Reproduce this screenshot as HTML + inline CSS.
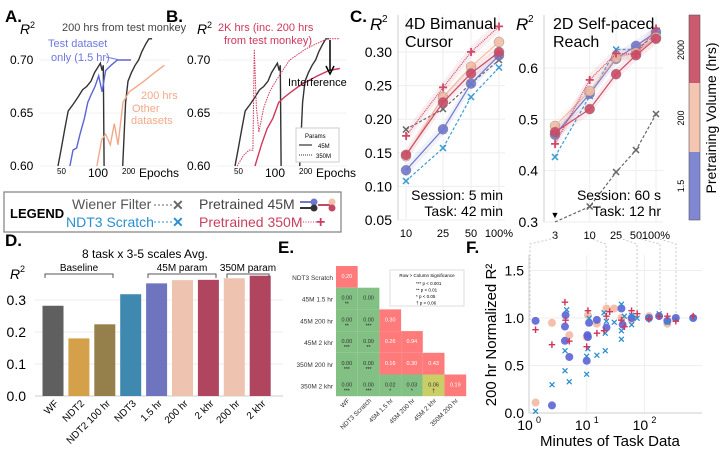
<!DOCTYPE html>
<html><head><meta charset="utf-8"><style>
body{margin:0;background:#fff}
svg{font-family:"Liberation Sans",sans-serif;display:block}
</style></head><body>
<svg id="fig" width="720" height="450" viewBox="0 0 720 450" xmlns="http://www.w3.org/2000/svg">
<g font-weight="bold" font-size="17">
<text x="5" y="22">A.</text><text x="166" y="22">B.</text><text x="350" y="22">C.</text>
<text x="5" y="246">D.</text><text x="278" y="253">E.</text><text x="466" y="253">F.</text>
</g>
<g>
<rect x="4" y="192" width="337" height="40" fill="none" stroke="#888" stroke-width="1.3"/>
<text x="10" y="218" font-size="13" font-weight="bold">LEGEND</text>
<text x="72" y="209" font-size="14" fill="#555">Wiener Filter</text>
<line x1="154" y1="205" x2="172" y2="205" stroke="#666" stroke-dasharray="2,2"/><text x="172" y="210" font-size="14" fill="#666" font-weight="bold">✕</text>
<text x="66" y="227" font-size="14" fill="#2a8fd0">NDT3 Scratch</text>
<line x1="154" y1="222" x2="172" y2="222" stroke="#2a8fd0" stroke-dasharray="2,2"/><text x="172" y="227" font-size="14" fill="#2a8fd0" font-weight="bold">✕</text>
<text x="199" y="209" font-size="14" fill="#444">Pretrained 45M</text>
<line x1="300" y1="202" x2="314" y2="202" stroke="#6f77cc" stroke-width="2"/><circle cx="314" cy="202" r="3.5" fill="#6f77cc"/>
<line x1="300" y1="208" x2="314" y2="208" stroke="#333" stroke-width="2"/><circle cx="314" cy="208" r="3.5" fill="#333"/>
<line x1="318" y1="205" x2="332" y2="205" stroke="#c24a64" stroke-width="2"/><circle cx="332" cy="202" r="3.5" fill="#f2c1aa"/><circle cx="332" cy="208" r="3.5" fill="#c24a64"/>
<text x="199" y="227" font-size="14" fill="#c8405e">Pretrained 350M</text>
<line x1="303" y1="222" x2="318" y2="222" stroke="#c8405e" stroke-dasharray="1,1.5"/><text x="316" y="227" font-size="16" fill="#c8405e" font-weight="bold">+</text>
</g>
<g id="root"></g>
</svg>
<script>
// ---------- data: panels A / B (epoch, R2) ----------
const aBlack1=[[46,0.60],[49,0.615],[53,0.635],[57,0.652],[63,0.658],[70,0.665],[77,0.672],[84,0.675],[92,0.68],[99,0.688],[106,0.693],[112,0.697],[116,0.69],[119,0.695],[121,0.60]];
const aBlack2=[[179,0.60],[190,0.66],[200,0.68],[215,0.688],[232,0.695],[250,0.70],[268,0.708],[290,0.715],[310,0.72],[332,0.72]];
const aBlue=[[59,0.60],[63,0.615],[68,0.617],[73,0.63],[80,0.645],[86,0.66],[93,0.668],[100,0.675],[108,0.685],[116,0.67],[125,0.69],[140,0.695],[160,0.70],[185,0.70],[213,0.70]];
const aOrange=[[104,0.60],[115,0.625],[125,0.63],[138,0.62],[150,0.64],[162,0.62],[180,0.66],[205,0.67],[240,0.675],[280,0.68],[320,0.685],[370,0.69],[430,0.695]];
const bRed=[[70,0.60],[80,0.62],[90,0.635],[102,0.645],[115,0.66],[130,0.665],[150,0.67],[175,0.675],[210,0.68],[260,0.685],[330,0.69],[415,0.692]];
const bRedDot=[[48,0.60],[55,0.61],[62,0.615],[67,0.615],[69,0.71],[72,0.655],[76,0.632],[84,0.655],[95,0.67],[108,0.68],[125,0.69],[145,0.70],[170,0.705],[200,0.71],[250,0.715],[320,0.72],[415,0.72]];
// ---------- panel C ----------
const cLeftX=[10,25,50,100];
const cLeftWF=[0.185,0.215,0.253,0.288];
const cLeftNDT3=[0.108,0.157,0.233,0.277];
const cLeft45s=[0.124,0.185,0.253,0.295];
const cLeft45m=[0.145,0.233,0.278,0.315];
const cLeft45l=[0.147,0.225,0.268,0.300];
const cLeft350=[0.175,0.247,0.300,0.338];
const cRightX=[3,10,25,50,100];
const cRightWF=[0.30,0.33,0.397,0.44,0.51];
const cRightNDT3=[0.427,0.545,0.636,0.636,0.665];
const cRight45s=[0.470,0.550,0.618,0.643,0.670];
const cRight45m=[0.487,0.555,0.620,0.630,0.660];
const cRight45l=[0.475,0.520,0.588,0.625,0.657];
const cRight350=[0.452,0.577,0.628,0.627,0.677];
// ---------- panel D ----------
const dCats=["WF","NDT2","NDT2 100 hr","NDT3","1.5 hr","200 hr","2 khr","200 hr","2 khr"];
const dVals=[0.282,0.180,0.224,0.318,0.352,0.362,0.363,0.368,0.376];
const dColors=["#5f5f5f","#d4a04a","#957f4a","#3f88b0","#6e75be","#eec3b0","#b04560","#eec3b0","#b04560"];
const dTicks=[0.0,0.1,0.2,0.3];
// ---------- panel E ----------
const eRows=["NDT3 Scratch","45M 1.5 hr","45M 200 hr","45M 2 khr","350M 200 hr","350M 2 khr"];
const eCols=["WF","NDT3 Scratch","45M 1.5 hr","45M 200 hr","45M 2 khr","350M 200 hr"];
const eVals=[[0.20],[0.00,0.00],[0.00,0.00,0.30],[0.00,0.00,0.26,0.94],[0.00,0.00,0.16,0.30,0.43],[0.00,0.00,0.02,0.03,0.06,0.19]];
const eStars=[[""],["**",""],["**","***",""],["***","**","",""],["***","***","","",""],["***","***","*","*","†",""]];
// ---------- panel F ----------
const fBlue=[[1.3,0.97],[2.5,0.08],[4.2,0.91],[4.2,0.76],[4.3,1.03],[5,0.59],[10,0.55],[10.3,0.82],[10.5,0.80],[11,0.95],[15,0.98],[22,0.90],[40,1.1],[42,0.93],[60,1.0],[120,1.0],[180,1.02],[250,0.97],[350,1.0],[700,1.0]];
const fPeach=[[1.3,0.11],[2.5,0.95],[5,0.82],[10,0.80],[10.5,1.03],[15,0.94],[22,1.1],[30,1.1],[40,1.0],[60,0.98],[120,1.02],[250,0.94]];
const fRed=[[1.3,0.88],[2.5,0.72],[4.2,1.17],[4.3,0.98],[5,0.76],[10,0.70],[10.5,1.08],[15,0.84],[20,0.87],[22,1.02],[25,1.07],[40,0.98],[45,0.91],[60,1.08],[75,1.05],[120,0.99],[180,1.02],[250,1.02],[350,0.97],[700,1.02]];
const fX=[[1.3,0.02],[2.5,0.30],[4.2,0.66],[4.2,0.45],[4.5,1.09],[5,0.33],[10,0.41],[10,0.60],[10.5,0.68],[11,1.0],[15,0.61],[20,1.06],[21,0.66],[21,0.84],[22,0.97],[30,0.96],[40,1.15],[40,0.87],[40,0.78],[45,1.02],[60,0.93],[60,1.03],[75,1.0],[120,1.0],[180,1.05],[250,0.96],[350,0.99],[700,1.0]];

const NS="http://www.w3.org/2000/svg";
const root=document.getElementById('root');
function mk(tag,attrs,parent,txt){const e=document.createElementNS(NS,tag);for(const k in attrs)e.setAttribute(k,attrs[k]);if(txt!==undefined)e.textContent=txt;(parent||root).appendChild(e);return e;}
function text(x,y,s,size,extra,parent){const a=Object.assign({x:x,y:y,'font-size':size},extra||{});return mk('text',a,parent,s);}
function poly(pts,stroke,w,dash,parent){const a={points:pts.map(p=>p[0].toFixed(1)+','+p[1].toFixed(1)).join(' '),fill:'none',stroke:stroke,'stroke-width':w};if(dash)a['stroke-dasharray']=dash;return mk('polyline',a,parent);}

// ---------- panels A & B ----------
function abPanel(ox,name){
  const g=mk('g',{});
  
  
  const ex=e=>ox+62+Math.log2(e/50)*33;
  const ry=v=>166-(v-0.60)/0.10*106;
  mk('line',{x1:ox+40,y1:166,x2:ox+170,y2:166,stroke:'#ddd'},g);
  [0.60,0.65,0.70].forEach(t=>{mk('line',{x1:ox+40,y1:ry(t),x2:ox+170,y2:ry(t),stroke:'#f0f0f0'},g);text(ox+10,ry(t)+4,t.toFixed(2),12,{},g);});
  text(ox+20,34,'R',14,{'font-style':'italic'},g);text(ox+30,28,'2',9,{},g);
  text(ox+57,174,'50',8,{},g);text(ox+88,177,'100',12,{},g);text(ox+122,174,'200',8,{},g);text(ox+139,177,'Epochs',12,{},g);
  return {g,ex,ry};
}
const A=abPanel(0,'panel-a-training-curves');
[[aBlack1,'#333',1.4,''],[aBlack2,'#333',1.4,''],[aBlue,'#5b63d6',1.4,''],[aOrange,'#f2a98a',1.4,'']].forEach(s=>{
  const l=poly(s[0].map(p=>[A.ex(p[0]),A.ry(p[1])]),s[1],s[2],s[3],A.g);
  
  
});
text(62,31,'200 hrs from test monkey',11,{fill:'#444'},A.g);
text(48,47,'Test dataset',11,{fill:'#6f77e0'},A.g);text(51,61,'only (1.5 hr)',11,{fill:'#6f77e0'},A.g);
mk('line',{x1:106,y1:57,x2:120,y2:60,stroke:'#6f77e0'},A.g);
text(141,99,'200 hrs',11,{fill:'#f2a98a'},A.g);text(132,112,'Other',11,{fill:'#f2a98a'},A.g);text(131,124,'datasets',11,{fill:'#f2a98a'},A.g);

const B=abPanel(177,'panel-b-training-curves');
[[aBlack1,'#333',1.4,''],[aBlack2,'#333',1.4,''],[bRed,'#d0375a',1.4,''],[bRedDot,'#d0375a',1,'1.5,1']].forEach(s=>{
  const l=poly(s[0].map(p=>[B.ex(p[0]),B.ry(p[1])]),s[1],s[2],s[3],B.g);
  
  
});
text(218,31,'2K hrs (inc. 200 hrs',11,{fill:'#d0375a'},B.g);text(224,44,'from test monkey)',11,{fill:'#d0375a'},B.g);
mk('line',{x1:330,y1:40,x2:330,y2:71,stroke:'#000','stroke-width':1.5},B.g);
mk('path',{d:'M326,66 L330,74 L334,66',fill:'none',stroke:'#000','stroke-width':1.5},B.g);
text(288,86,'Interference',11,{},B.g);
mk('rect',{x:296,y:128,width:43,height:34,fill:'#fff',stroke:'#ccc'},B.g);
text(305,138,'Params',6,{},B.g);
mk('line',{x1:299,y1:145,x2:312,y2:145,stroke:'#333','stroke-width':1.2},B.g);text(318,148,'45M',6,{},B.g);
mk('line',{x1:299,y1:155,x2:312,y2:155,stroke:'#333','stroke-dasharray':'1,1'},B.g);text(316,158,'350M',6,{},B.g);

// ---------- panel C ----------
function cPanel(o){
  const g=mk('g',{});
  
  
  const lx=v=>o.x0+Math.log(v/o.xs[0])/Math.log(o.xs[o.xs.length-1]/o.xs[0])*(o.x1-o.x0);
  const ly=v=>o.y0-(v-o.ymin)/(o.ymax-o.ymin)*(o.y0-o.y1);
  o.yt.forEach(t=>{mk('line',{x1:o.px0,y1:ly(t),x2:o.px1,y2:ly(t),stroke:'#eee'},g);text(o.px0-6,ly(t)+5,o.ytf(t),14,{'text-anchor':'end'},g);});
  o.xs.forEach((t,i)=>{mk('line',{x1:lx(t),y1:15,x2:lx(t),y2:o.y0,stroke:'#eee'},g);text(lx(t),o.y0+17,o.xl[i],11,{'text-anchor':'middle'},g);});
  mk('line',{x1:o.px0,y1:15,x2:o.px0,y2:o.y0,stroke:'#ccc'},g);
  const ser=[[o.wf,'#666','x','3,2'],[o.ndt,'#3a9ad6','x','3,2'],[o.s45,'#6f77cc','o',''],[o.m45,'#f2bda5','o',''],[o.l45,'#cc4a66','o',''],[o.p350,'#cc4a66','+','1,1']];
  ser.forEach((s,si)=>{
    const pts=s[0].map((v,i)=>[lx(o.xs[i]),ly(Math.max(v,o.ymin))]);
    if(s[2]==='o'||s[2]==='+'){
      const band=pts.map(p=>[p[0],p[1]-6]).concat(pts.slice().reverse().map(p=>[p[0],p[1]+6]));
      mk('polygon',{points:band.map(p=>p.join(',')).join(' '),fill:s[1],opacity:0.1},g);
    }
    const l=poly(pts,s[1],1.2,s[3],g);
    
    
    pts.forEach((p,i)=>{
      let m;
      if(o.tri&&si===0&&i===0){m=text(p[0],p[1]-4,'▼',9,{'text-anchor':'middle'},g);}
      else if(s[2]==='o')m=mk('circle',{cx:p[0],cy:p[1],r:5,fill:s[1],stroke:'#777','stroke-width':0.4,opacity:0.9},g);
      else if(s[2]==='x')m=text(p[0],p[1]+4,'✕',11,{'text-anchor':'middle',fill:s[1],'font-weight':'bold'},g);
      else m=text(p[0],p[1]+5,'+',16,{'text-anchor':'middle',fill:s[1],'font-weight':'bold'},g);
      
      
    });
  });
  text(o.px0-28,30,'R',17,{'font-style':'italic'},g);text(o.px0-16,22,'2',10,{},g);
  text(o.tx,17+12,o.t1,16,{},g);text(o.tx,17+30,o.t2,16,{},g);
  text(o.px1-2,200,o.s1,14,{'text-anchor':'end'},g);text(o.px1-2,216,o.s2,14,{'text-anchor':'end'},g);
}
cPanel({name:'panel-c-bimanual',xs:cLeftX,xl:['10','25','50','100%'],x0:406,x1:499,px0:398,px1:505,y0:220,y1:52,ymin:0.05,ymax:0.30,yt:[0.05,0.10,0.15,0.20,0.25,0.30],ytf:t=>t.toFixed(2),
  wf:cLeftWF,ndt:cLeftNDT3,s45:cLeft45s,m45:cLeft45m,l45:cLeft45l,p350:cLeft350,tx:405,t1:'4D Bimanual',t2:'Cursor',s1:'Session: 5 min',s2:'Task: 42 min'});
cPanel({name:'panel-c-reach',xs:cRightX,xl:['3','10','25','50','100%'],x0:555,x1:656,px0:544,px1:663,y0:222,y1:68,ymin:0.30,ymax:0.60,yt:[0.3,0.4,0.5,0.6],ytf:t=>t.toFixed(1),tri:true,
  wf:cRightWF,ndt:cRightNDT3,s45:cRight45s,m45:cRight45m,l45:cRight45l,p350:cRight350,tx:553,t1:'2D Self-paced',t2:'Reach',s1:'Session: 60 s',s2:'Task: 12 hr'});
const cb=mk('g',{});


mk('rect',{x:689,y:15,width:11,height:68,fill:'#cc5a6e'},cb);
mk('rect',{x:689,y:83,width:11,height:69,fill:'#f4c6b1'},cb);
mk('rect',{x:689,y:152,width:11,height:68,fill:'#8088d4'},cb);
mk('rect',{x:689,y:15,width:11,height:205,fill:'none',stroke:'#555','stroke-width':0.6},cb);
[['2000',50],['200',118],['1.5',186]].forEach(a=>text(0,0,a[0],9,{transform:`translate(684,${a[1]}) rotate(-90)`,'text-anchor':'middle'},cb));
text(0,0,'Pretraining Volume (hrs)',14,{transform:'translate(716,118) rotate(-90)','text-anchor':'middle'},cb);
[[555,530],[589,606],[619,637],[637,660],[656,676]].forEach(c=>mk('polyline',{points:`${c[0]},238 ${c[1]},244 ${c[1]},320`,fill:'none',stroke:'#bbb','stroke-dasharray':'2,2','stroke-width':0.8}));

// ---------- panel D ----------
(function(){
  const g=mk('g',{});
  
  
  const y=v=>396-v/0.1*32;
  const bx=i=>53+i*25.9;
  dTicks.forEach(t=>{mk('line',{x1:35,y1:y(t),x2:283,y2:y(t),stroke:'#eee'},g);text(26,y(t)+5,t.toFixed(1),14,{'text-anchor':'end'},g);});
  mk('line',{x1:35,y1:396,x2:283,y2:396,stroke:'#ccc'},g);
  dVals.forEach((v,i)=>{
    const r=mk('rect',{x:bx(i)-10.5,y:y(v),width:21,height:396-y(v),fill:dColors[i]},g);
    
    
    text(0,0,dCats[i],10,{transform:`translate(${bx(i)+6},${404}) rotate(-45)`,'text-anchor':'end'},g);
  });
  text(82,258,'8 task x 3-5 scales Avg.',12,{},g);
  text(10,279,'R',14,{'font-style':'italic'},g);text(20,272,'2',9,{},g);
  [[45,113],[148,216],[227,269]].forEach(b=>{
    mk('path',{d:`M${b[0]},278 V274 H${b[1]} V278`,fill:'none',stroke:'#555'},g);
  });
  text(79,271,'Baseline',10,{'text-anchor':'middle'},g);
  text(182,271,'45M param',10,{'text-anchor':'middle'},g);
  text(248,271,'350M param',10,{'text-anchor':'middle'},g);
})();

// ---------- panel E ----------
(function(){
  const g=mk('g',{});
  
  
  const cx=j=>336+j*21.7, ry=i=>266+i*21.7;
  eRows.forEach((r,i)=>{
    text(333,ry(i)+14,r,6.5,{'text-anchor':'end',fill:'#333'},g);
    eVals[i].forEach((v,j)=>{
      const col=v<0.05?'#82c084':(v<0.1?'#c9cf66':'#ff7a7a');
      const c=mk('rect',{x:cx(j),y:ry(i),width:21.7,height:21.7,fill:col},g);
      
      
      text(cx(j)+10.8,ry(i)+12,v.toFixed(2),5.5,{'text-anchor':'middle',fill:v<0.1?'#333':'#fff'},g);
      text(cx(j)+10.8,ry(i)+18,eStars[i][j],5,{'text-anchor':'middle',fill:'#222'},g);
    });
  });
  eCols.forEach((c,j)=>text(0,0,c,6.5,{transform:`translate(${cx(j)+14},401) rotate(-45)`,'text-anchor':'end',fill:'#333'},g));
  mk('rect',{x:390,y:270,width:74,height:36,fill:'#fff',stroke:'#ddd'},g);
  text(427,277,'Row > Column Significance',4.5,{'text-anchor':'middle'},g);
  ['*** p < 0.001','** p < 0.01','* p < 0.05','† p < 0.06'].forEach((s,i)=>text(416,285+i*6.5,s,4.5,{},g));
})();

// ---------- panel F ----------
(function(){
  const g=mk('g',{});
  
  
  const x=v=>529+Math.log10(v)*57.7, y=v=>413-v/0.5*47.5;
  [0,0.5,1.0,1.5].forEach(t=>{mk('line',{x1:529,y1:y(t),x2:702,y2:y(t),stroke:'#eee'},g);text(524,y(t)+5,t.toFixed(1),14,{'text-anchor':'end'},g);});
  [0,1,2].forEach(k=>{mk('line',{x1:x(Math.pow(10,k)),y1:255,x2:x(Math.pow(10,k)),y2:413,stroke:'#eee'},g);
    text(x(Math.pow(10,k))-4,430,'10',14,{'text-anchor':'middle'},g);text(x(Math.pow(10,k))+7,423,String(k),9,{},g);});
  mk('line',{x1:529,y1:413,x2:702,y2:413,stroke:'#ccc'},g);
  mk('line',{x1:529,y1:255,x2:529,y2:413,stroke:'#ccc'},g);
  fPeach.forEach(p=>{const m=mk('circle',{cx:x(p[0]),cy:y(p[1]),r:4,fill:'#f4b9a2',opacity:0.9},g);});
  fBlue.forEach(p=>{const m=mk('circle',{cx:x(p[0]),cy:y(p[1]),r:4,fill:'#5b63d6',opacity:0.9},g);});
  fX.forEach(p=>{const m=text(x(p[0]),y(p[1])+3.5,'✕',9,{'text-anchor':'middle',fill:'#2a8fd0','font-weight':'bold'},g);});
  fRed.forEach(p=>{const m=text(x(p[0]),y(p[1])+4.5,'+',13,{'text-anchor':'middle',fill:'#d0375a','font-weight':'bold'},g);});
  text(540,446,'Minutes of Task Data',15,{},g);
  text(0,0,'200 hr Normalized R²',15,{transform:'translate(496,335) rotate(-90)','text-anchor':'middle'},g);
})();
</script>
</body></html>
